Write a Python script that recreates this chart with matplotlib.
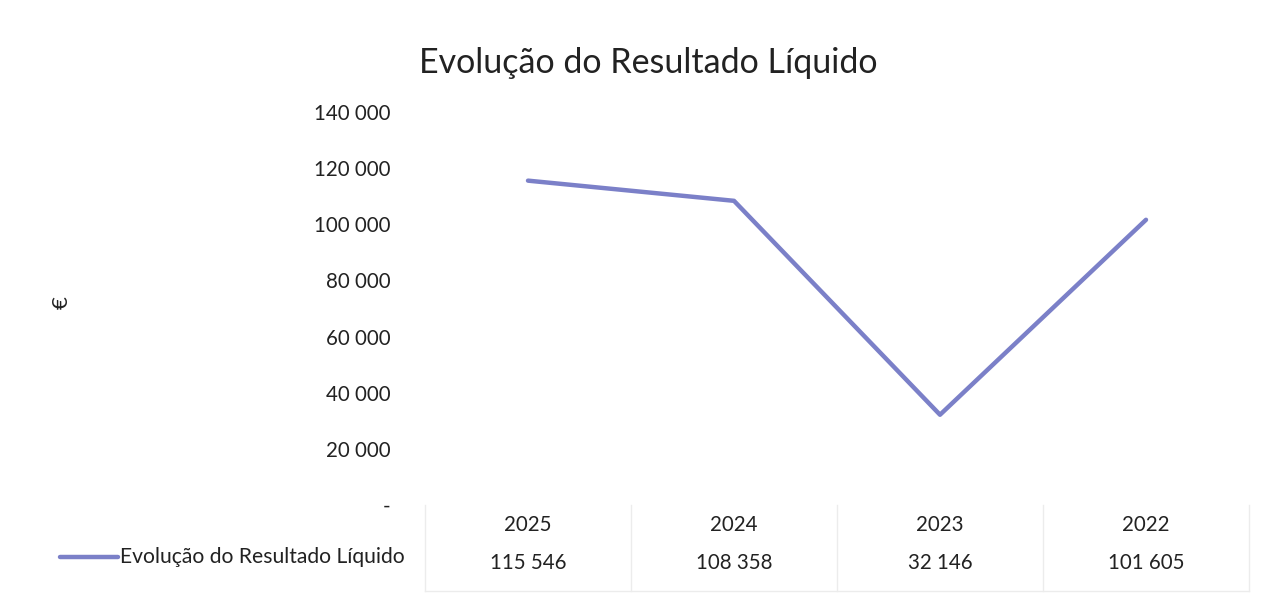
import matplotlib.pyplot as plt
from matplotlib.ticker import FuncFormatter
import matplotlib.transforms as mtransforms

plt.rcParams['font.family'] = ['Lato', 'DejaVu Sans']

anos = ['2025', '2024', '2023', '2022']
resultado = [115546, 108358, 32146, 101605]
serie = 'Evolução do Resultado Líquido'
cor = '#7b80c8'

def fmt(v, pos=None):
    if v == 0:
        return '-'
    return f'{int(round(v)):,}'.replace(',', ' ')

fig = plt.figure(figsize=(12.67, 5.98), dpi=100)
ax = fig.add_axes([425 / 1267, 1 - 505 / 598, 824 / 1267, 393 / 598])

x = list(range(len(anos)))
ax.plot(x, resultado, color=cor, lw=3.2, solid_capstyle='round')
ax.set_xlim(-0.5, len(anos) - 0.5)
ax.set_ylim(0, 140000)
ax.set_yticks(range(0, 140001, 20000))
ax.yaxis.set_major_formatter(FuncFormatter(fmt))
ax.tick_params(axis='y', length=0, pad=25, labelsize=14.8, colors='#222222')
ax.set_xticks([])
for s in ax.spines.values():
    s.set_visible(False)

# tabela de dados
tr = mtransforms.blended_transform_factory(ax.transData, ax.transAxes)
for i, (a, v) in enumerate(zip(anos, resultado)):
    ax.text(i, -0.052, a, transform=tr, ha='center', va='center', fontsize=14.8, color='#222222', clip_on=False)
    ax.text(i, -0.148, fmt(v), transform=tr, ha='center', va='center', fontsize=14.8, color='#222222', clip_on=False)
for b in [-0.5, 0.5, 1.5, 2.5, 3.5]:
    ax.plot([b, b], [0, -0.22], transform=tr, color='#ececec', lw=1, clip_on=False)
ax.plot([-0.5, 3.5], [-0.22, -0.22], transform=tr, color='#ececec', lw=1, clip_on=False)

# legenda na tabela
fig.add_artist(plt.Line2D([60 / 1267, 118 / 1267], [1 - 557 / 598] * 2, color=cor, lw=3.2, solid_capstyle='round'))
fig.text(120 / 1267, 1 - 557 / 598, serie, ha='left', va='center', fontsize=15.2, color='#222222')

fig.text(62 / 1267, 1 - 303 / 598, '€', rotation=90, ha='center', va='center', fontsize=16, color='#222222')
fig.text(648 / 1267, 1 - 63 / 598, 'Evolução do Resultado Líquido', ha='center', va='center', fontsize=24.5, color='#222222')

fig.savefig('out.png', dpi=100, facecolor='white')
